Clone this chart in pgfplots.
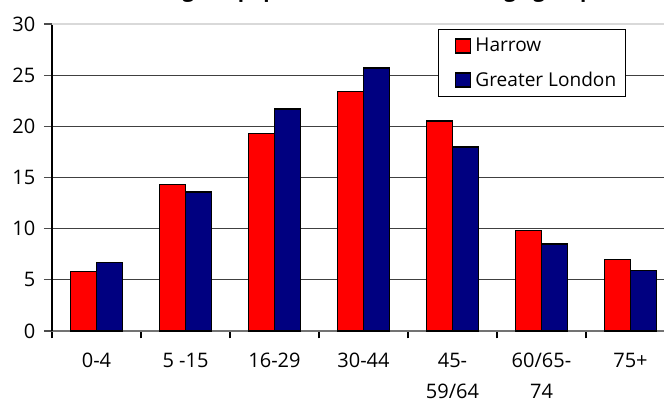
\documentclass[border=0pt]{standalone}
\usepackage{pgfplots}
\pgfplotsset{compat=1.18}
\usepackage{fontspec}
\setmainfont{Open Sans}
\definecolor{hred}{RGB}{255,0,0}
\definecolor{gblue}{RGB}{0,0,128}
\begin{document}
\begin{tikzpicture}
\path[use as bounding box, clip] (-39pt,-52.5pt) rectangle (459pt,248.25pt);
\begin{axis}[
  at={(0pt,0pt)}, anchor=south west,
  scale only axis,
  width=467.25pt, height=230.25pt,
  xmin=-0.5, xmax=6.5, ymin=0, ymax=30,
  axis x line=bottom, axis y line=left,
  axis line style={-},
  x axis line style={black!55, line width=0.9pt},
  y axis line style={black, line width=0.9pt},
  xtick={0,...,6},
  xticklabels={0-4, 5 -15, 16-29, 30-44, {45-\\59/64}, {60/65-\\74}, 75+},
  x tick label style={align=center, font=\fontsize{15}{23}\selectfont, yshift=-7pt},
  major x tick style={draw=none},
  minor xtick={-0.5,0.5,...,6.5},
  minor x tick style={black, line width=0.8pt},
  minor tick length=5.5pt,
  ytick={0,5,...,25},
  extra y ticks={30},
  extra y tick style={grid style={black!15, line width=0.8pt}},
  y tick label style={font=\fontsize{15}{18}\selectfont, xshift=-3pt},
  major y tick style={black!70, line width=0.8pt},
  major tick length=6pt,
  tick align=outside,
  ymajorgrids,
  grid style={black!75, line width=0.8pt},
  /pgf/number format/assume math mode=true,
  ybar=0pt, bar width=19.5pt,
  legend style={at={(axis cs:3.837,29.51)}, anchor=north west,
    draw=black, line width=0.7pt, fill=white,
    font=\fontsize{14.3}{17}\selectfont,
    inner xsep=5.25pt, inner ysep=4.5pt, row sep=9.5pt,
    legend cell align=left,
    nodes={inner xsep=2pt}},
  legend image code/.code={\path[draw=none, fill=none] (0pt,0pt) -- (20.5pt,0pt); \draw[#1, line width=0.9pt] (7.5pt,-5.25pt) rectangle (18.75pt,5.25pt);},
]
\addplot[fill=hred, draw=black, line width=1.1pt] coordinates {(0,5.8) (1,14.3) (2,19.3) (3,23.4) (4,20.5) (5,9.8) (6,7.0)};
\addplot[fill=gblue, draw=black, line width=1.1pt] coordinates {(0,6.7) (1,13.6) (2,21.7) (3,25.7) (4,18.0) (5,8.5) (6,5.9)};
\legend{Harrow, Greater London}
\end{axis}
\node[anchor=base west, font=\bfseries\fontsize{15.4}{19}\selectfont, inner sep=0pt] at (29.25pt,250.4pt) {Percentage of population in each main age group};
\end{tikzpicture}
\end{document}
